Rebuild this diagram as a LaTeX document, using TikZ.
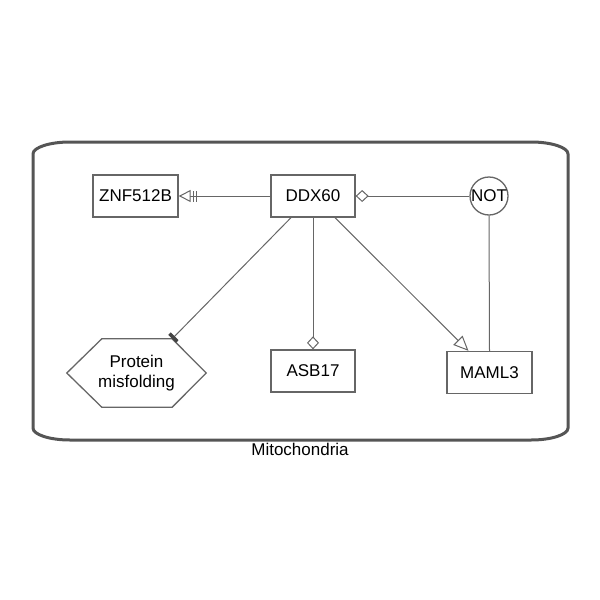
\documentclass[tikz,border=0pt]{standalone}
\usepackage{fontspec}
\setmainfont{Liberation Sans}
\usetikzlibrary{arrows.meta}
\definecolor{linegray}{HTML}{666666}
\definecolor{compgray}{HTML}{555555}
\definecolor{bargray}{HTML}{444444}
\begin{document}
\begin{tikzpicture}[x=1pt,y=-1pt,
  box/.style={draw=linegray, line width=1.3pt, fill=white, minimum width=85pt, minimum height=42pt, inner sep=0pt, font=\fontsize{17}{19}\selectfont},
  notnode/.style={draw=linegray, line width=1.3pt, fill=white, circle, minimum size=38pt, inner sep=0pt, font=\fontsize{17}{19}\selectfont},
  hexlabel/.style={minimum width=139pt, minimum height=68pt, inner sep=0pt, align=center, font=\fontsize{17}{20}\selectfont},
  conn/.style={draw=linegray, line width=1pt},
  comp/.style={draw=compgray, line width=3pt},
  necstim/.style={-{Bar[width=11pt,line width=1.2pt,sep=1.8pt] Bar[width=11pt,line width=1.2pt,sep=2pt] Triangle[open,length=12pt,width=12pt,line width=1pt,fill=white]}},
  modul/.style={-{Diamond[open,length=13pt,width=12pt,line width=1pt,fill=white]}},
  stim/.style={-{Triangle[open,length=15pt,width=13pt,line width=1pt,fill=white]}},
  inhib/.style={-{Rectangle[length=3.5pt,width=11pt,fill=bargray,color=bargray]}},
]
\useasboundingbox (0,0) rectangle (600,600);
% compartment
\draw[comp] (33,154) .. controls (33,147.4) and (49.6,142) .. (70,142) -- (531,142)
  .. controls (551.4,142) and (568,147.4) .. (568,154) -- (568,428)
  .. controls (568,434.6) and (551.4,440) .. (531,440) -- (70,440)
  .. controls (49.6,440) and (33,434.6) .. (33,428) -- cycle;
\node[font=\fontsize{17}{19}\selectfont, anchor=base, inner sep=0pt] (mito) at (300,455) {Mitochondria};
% nodes
\node[box] (znf) at (135.5,196) {ZNF512B};
\node[box, minimum width=84pt] (ddx) at (313,196) {DDX60};
\node[notnode] (not) at (489,196) {NOT};
\node[box, minimum width=84pt] (asb) at (313,371) {ASB17};
\node[box] (maml) at (489.5,372.5) {MAML3};
\node[hexlabel] (hex) at (136.5,373) {Protein\\misfolding};
\draw[draw=linegray, line width=1.3pt] (hex.west) -- ([xshift=35pt]hex.north west)
  -- ([xshift=-34pt]hex.north east) coordinate (hexcorner) -- (hex.east)
  -- ([xshift=-34pt]hex.south east) -- ([xshift=35pt]hex.south west) -- cycle;
% connectors
\draw[conn, necstim] (ddx.west) -- (znf.east);
\draw[conn, modul] (not.west) -- (ddx.east);
\draw[conn] (not.south) -- (maml.north);
\draw[conn, inhib] ([xshift=-22pt]ddx.south) -- (hexcorner);
\draw[conn, modul] (ddx.south) -- (asb.north);
\draw[conn, stim] ([xshift=22pt]ddx.south) -- ([xshift=-21pt]maml.north);
\end{tikzpicture}
\end{document}
